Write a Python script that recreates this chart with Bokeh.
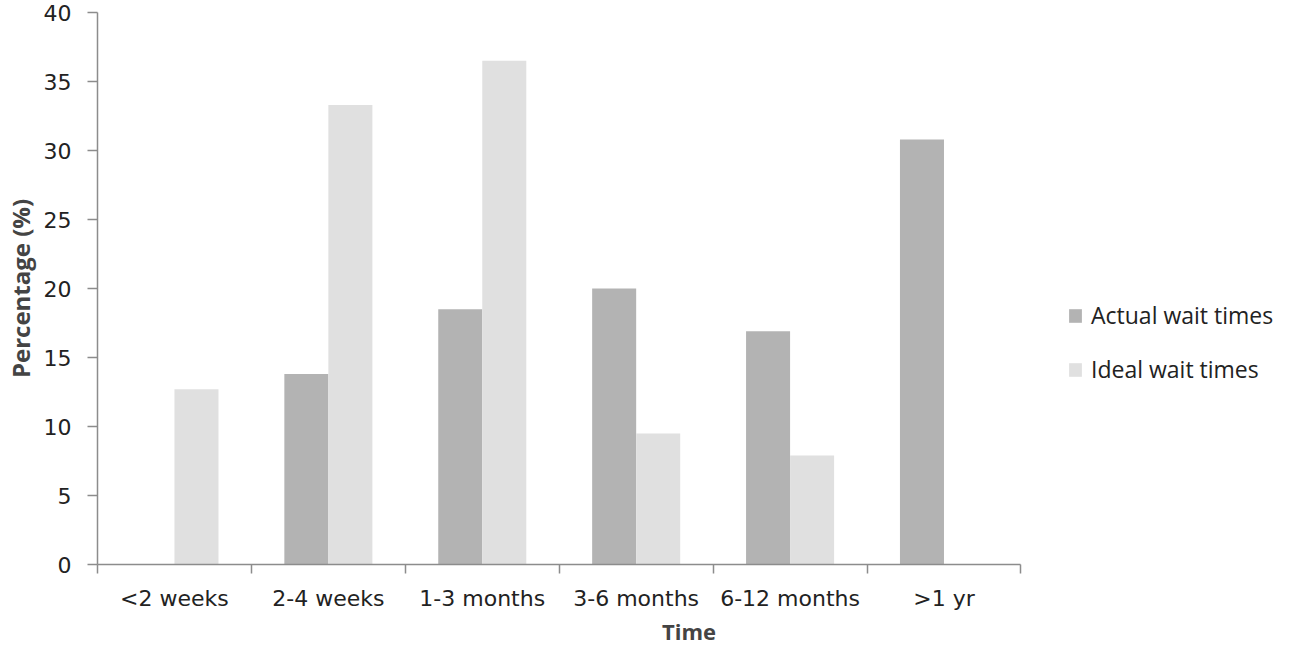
import numpy as np
from bokeh.plotting import figure
from bokeh.models import Range1d, FixedTicker, Legend, LegendItem
from bokeh.embed import file_html
from bokeh.resources import INLINE

categories = ["<2 weeks", "2-4 weeks", "1-3 months", "3-6 months", "6-12 months", ">1 yr"]
actual = [0.0, 13.8, 18.5, 20.0, 16.9, 30.8]
ideal = [12.7, 33.3, 36.5, 9.5, 7.9, 0.0]
series_names = ["Actual wait times", "Ideal wait times"]
y_ticks = [0, 5, 10, 15, 20, 25, 30, 35, 40]

ACTUAL_COLOR = "#b3b3b3"
IDEAL_COLOR = "#e0e0e0"
AXIS_COLOR = "#8c8c8c"
TICK_FONT = "DejaVu Sans"
LABEL_FONT = "Open Sans"

W, H = 1280, 648
LEFT, TOP, BOTTOM = 95, 12, 78
AXIS_RIGHT_PX = 1020  # where the category axis ends; space to the right holds the legend

n = len(categories)
centers = np.arange(n) + 0.5
bar_w = 0.286
px_per_cat = (AXIS_RIGHT_PX - LEFT) / n
x_end = n + (W - AXIS_RIGHT_PX) / px_per_cat

p = figure(width=W, height=H, output_backend="svg", toolbar_location=None,
           x_range=Range1d(0, x_end), y_range=Range1d(0, 40),
           min_border_left=LEFT, min_border_right=0, min_border_top=TOP,
           min_border_bottom=BOTTOM)
p.outline_line_color = None
p.grid.visible = False
p.background_fill_color = "white"
p.border_fill_color = "white"

r_actual = p.vbar(x=centers - bar_w / 2, top=actual, width=bar_w, bottom=0,
                  fill_color=ACTUAL_COLOR, line_color=None)
r_ideal = p.vbar(x=centers + bar_w / 2, top=ideal, width=bar_w, bottom=0,
                 fill_color=IDEAL_COLOR, line_color=None)

# x axis: labels at centers, ticks at boundaries (minor ticks)
xa = p.xaxis[0]
xa.bounds = (0, n)
xa.ticker = FixedTicker(ticks=list(centers), minor_ticks=list(range(n + 1)))
xa.major_label_overrides = {float(c): lab for c, lab in zip(centers, categories)}
xa.major_tick_out = 0
xa.major_tick_in = 0
xa.minor_tick_out = 9
xa.minor_tick_in = 0
xa.minor_tick_line_color = AXIS_COLOR
xa.axis_line_color = AXIS_COLOR
xa.axis_line_width = 1.5
xa.minor_tick_line_width = 1.5
xa.major_label_text_font = TICK_FONT
xa.major_label_text_font_size = "22px"
xa.major_label_text_color = "#222222"
xa.major_label_standoff = 12
xa.axis_label = "Time"
xa.axis_label_text_font = LABEL_FONT
xa.axis_label_text_font_style = "bold"
xa.axis_label_text_font_size = "22px"
xa.axis_label_standoff = 2

ya = p.yaxis[0]
ya.ticker = FixedTicker(ticks=y_ticks, minor_ticks=[])
ya.major_tick_out = 10
ya.major_tick_in = 0
ya.major_tick_line_color = AXIS_COLOR
ya.major_tick_line_width = 1.5
ya.axis_line_color = AXIS_COLOR
ya.axis_line_width = 1.5
ya.major_label_text_font = TICK_FONT
ya.major_label_text_font_size = "22px"
ya.major_label_text_color = "#222222"
ya.major_label_standoff = 16
ya.axis_label = "Percentage (%)"
ya.axis_label_text_font = LABEL_FONT
ya.axis_label_text_font_style = "bold"
ya.axis_label_text_font_size = "24px"
ya.axis_label_standoff = 4

legend = Legend(items=[LegendItem(label=series_names[0], renderers=[r_actual]),
                       LegendItem(label=series_names[1], renderers=[r_ideal])],
                location=(970, 179), orientation="vertical",
                glyph_width=16, glyph_height=17, label_standoff=8, spacing=22,
                padding=0, margin=0, border_line_color=None,
                background_fill_alpha=0,
                label_text_font=LABEL_FONT, label_text_font_size="23px",
                label_text_color="#222222")
p.add_layout(legend, "center")

open("out.html", "w").write(file_html(p, INLINE))
